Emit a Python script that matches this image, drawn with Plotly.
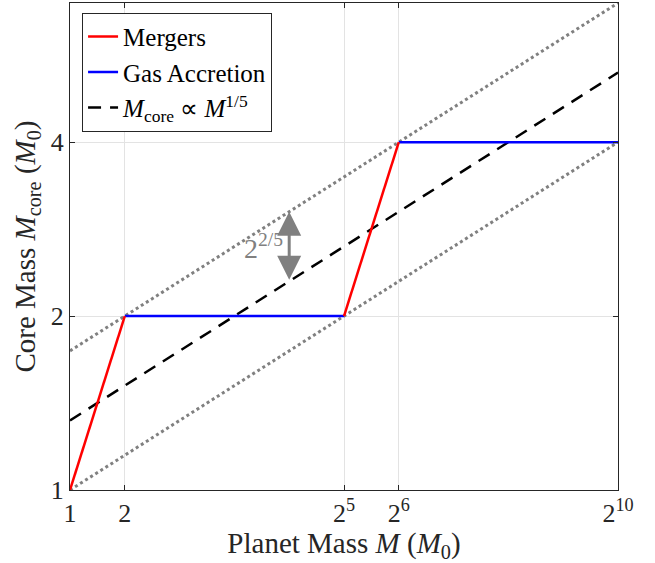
import math
import plotly.graph_objects as go

# ---- data ----
merger_x = [1, 2, None, 32, 64]
merger_y = [1, 2, None, 2, 4]
accretion_x = [2, 32, None, 64, 1024]
accretion_y = [2, 2, None, 4, 4]
trend_x = [1, 1024]
trend_y = [1.3195, 5.278]          # M_core ∝ M^{1/5}
upper_x = [1, 1024]
upper_y = [1.7411, 6.9644]
lower_x = [1, 1024]
lower_y = [1.0, 4.0]
arrow_x = 16
arrow_y_low = 2.2974
arrow_y_high = 3.0314

x_tickvals = [1, 2, 32, 64, 1024]
x_ticktext = ["1", "2", "2<sup>5</sup>", "2<sup>6</sup>", "2<sup>10</sup>"]
y_tickvals = [1, 2, 4]
y_ticktext = ["1", "2", "4"]

FONT = "Liberation Serif"
GREY = "#808080"

fig = go.Figure()
fig.add_trace(go.Scatter(x=upper_x, y=upper_y, mode="lines", showlegend=False,
                         line=dict(color=GREY, width=3, dash="dot")))
fig.add_trace(go.Scatter(x=lower_x, y=lower_y, mode="lines", showlegend=False,
                         line=dict(color=GREY, width=3, dash="dot")))
fig.add_trace(go.Scatter(x=trend_x, y=trend_y, mode="lines",
                         name="<i>M</i><sub>core</sub> ∝ <i>M</i><sup>1/5</sup>",
                         line=dict(color="black", width=2.5, dash="13px,9px")))
fig.add_trace(go.Scatter(x=accretion_x, y=accretion_y, mode="lines", name="Gas Accretion",
                         line=dict(color="#0000ff", width=2.5)))
fig.add_trace(go.Scatter(x=merger_x, y=merger_y, mode="lines", name="Mergers",
                         line=dict(color="#ff0000", width=2.5)))

fig.add_annotation(x=math.log10(arrow_x), y=math.log10(arrow_y_high),
                   ax=math.log10(arrow_x), ay=math.log10(arrow_y_low),
                   xref="x", yref="y", axref="x", ayref="y", text="",
                   showarrow=True, arrowside="end+start", arrowhead=2, startarrowhead=2,
                   arrowsize=1.6, startarrowsize=1.6, arrowwidth=3, arrowcolor=GREY)
fig.add_annotation(x=math.log10(arrow_x), y=math.log10(2.64), xref="x", yref="y",
                   text="2<sup>2/5</sup>", showarrow=False, xanchor="right", xshift=-4,
                   font=dict(family=FONT, size=28, color=GREY))

axis_common = dict(type="log", showline=True, linecolor="#262626", linewidth=1,
                   mirror="ticks", ticks="inside", ticklen=5, tickcolor="#262626",
                   showgrid=True, gridcolor="#e3e3e3", gridwidth=1, zeroline=False,
                   automargin=False,
                   tickfont=dict(family=FONT, size=26, color="#262626"))

fig.update_xaxes(range=[0, math.log10(1024)], tickvals=x_tickvals, ticktext=x_ticktext,
                 title=dict(text="Planet Mass <i>M</i> (<i>M</i><sub>0</sub>)",
                            font=dict(family=FONT, size=29, color="#262626"), standoff=4),
                 **axis_common)
fig.update_yaxes(range=[0, math.log10(6.9644)], tickvals=y_tickvals, ticktext=y_ticktext,
                 title=dict(text="Core Mass <i>M</i><sub>core</sub> (<i>M</i><sub>0</sub>)",
                            font=dict(family=FONT, size=29, color="#262626"), standoff=6),
                 **axis_common)

fig.update_layout(
    width=655, height=563,
    margin=dict(l=70, r=37, t=3, b=73),
    paper_bgcolor="white", plot_bgcolor="white",
    legend=dict(x=0.022, y=0.98, xanchor="left", yanchor="top",
                bgcolor="white", bordercolor="#262626", borderwidth=1,
                font=dict(family=FONT, size=25, color="black"),
                traceorder="reversed", tracegroupgap=0),
)

fig.write_html("out.html", config={"displayModeBar": False},
               post_script="document.body.style.margin='0';document.body.style.overflow='hidden';")
